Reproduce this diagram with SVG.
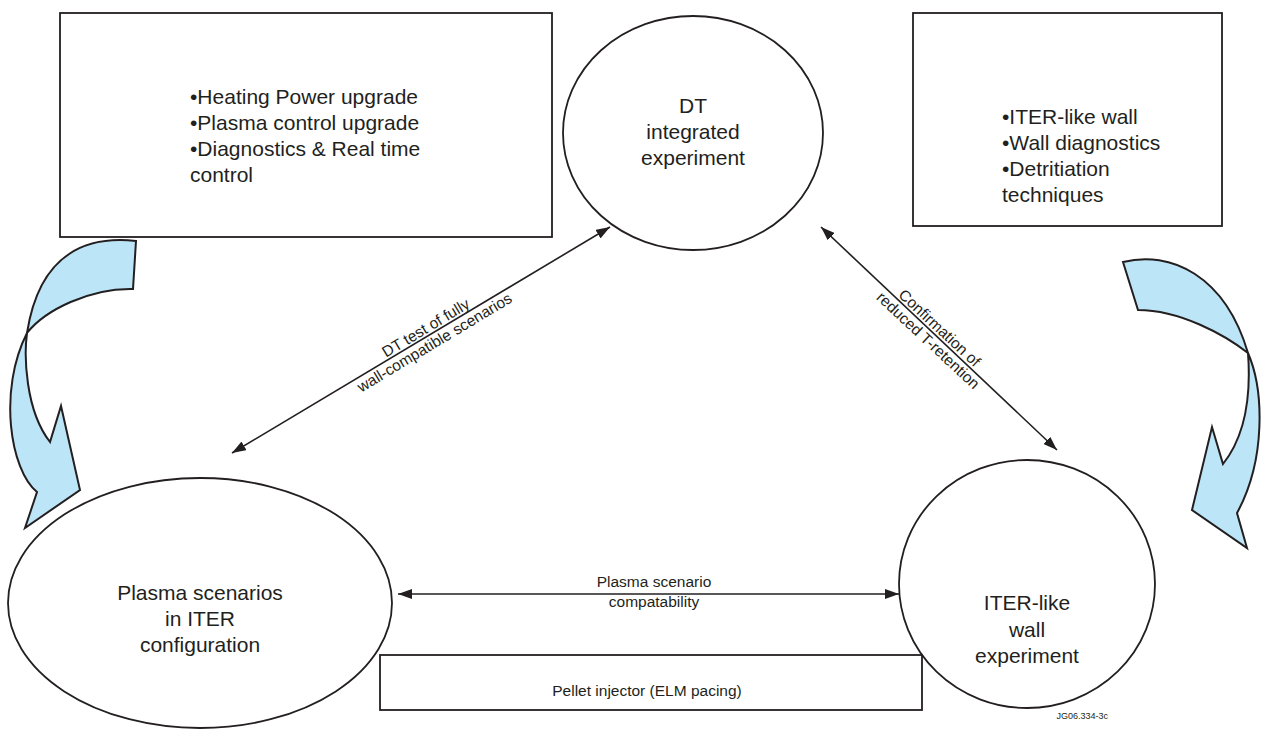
<svg xmlns="http://www.w3.org/2000/svg" width="1262" height="731" viewBox="0 0 1262 731">
<style>
.box{fill:#fff;stroke:#231f20;stroke-width:1.8}
.ell{fill:#fff;stroke:#231f20;stroke-width:1.8}
.t{font-family:"Liberation Sans",Arial,sans-serif;font-size:21px;fill:#231f20}
.c{text-anchor:middle}
.lbl{font-family:"Liberation Sans",Arial,sans-serif;font-size:15.5px;fill:#231f20;text-anchor:middle}
.con{stroke:#231f20;stroke-width:1.6;fill:none}
.blue{fill:#bde5f8;stroke:#231f20;stroke-width:2;stroke-linejoin:miter}
</style>
<defs>
<marker id="ah" viewBox="0 0 14 10" refX="14" refY="5" markerWidth="14" markerHeight="10" markerUnits="userSpaceOnUse" orient="auto-start-reverse">
<path d="M0,0 L14,5 L0,10 Z" fill="#231f20"/>
</marker>
</defs>
<rect width="1262" height="731" fill="#fff"/>

<g id="box-upgrades">
<rect class="box" x="60" y="13" width="492" height="224"/>
<text class="t" x="190" y="104">•Heating Power upgrade</text>
<text class="t" x="190" y="130">•Plasma control upgrade</text>
<text class="t" x="190" y="156">•Diagnostics &amp; Real time</text>
<text class="t" x="190" y="182"> control</text>
</g>

<g id="box-wall">
<rect class="box" x="913" y="13" width="309" height="213"/>
<text class="t" x="1002" y="124">•ITER-like wall</text>
<text class="t" x="1002" y="150">•Wall diagnostics</text>
<text class="t" x="1002" y="176">•Detritiation</text>
<text class="t" x="1002" y="202"> techniques</text>
</g>

<g id="arrow-left-curved">
<path class="blue" d="M136,241 C90,236 40,250 27,333 C24,355 25,410 50,442 L61,406 L80,490 L25,528 L37,492 C10,470 -2,390 27,333 C45,310 90,288 133,289 Z"/>
</g>

<g id="arrow-right-curved">
<path class="blue" d="M1123,262 C1170,250 1225,275 1248,353 C1250,380 1250,430 1223,464 L1212,427 L1192,510 L1247,548 L1237,513 C1266,460 1264,390 1248,353 C1225,335 1180,310 1138,310 Z"/>
</g>

<g id="node-dt">
<ellipse class="ell" cx="693" cy="133" rx="130" ry="117"/>
<text class="t c" x="693" y="113">DT</text>
<text class="t c" x="693" y="139">integrated</text>
<text class="t c" x="693" y="165">experiment</text>
</g>

<g id="node-plasma">
<ellipse class="ell" cx="200" cy="603" rx="192" ry="125"/>
<text class="t c" x="200" y="600">Plasma scenarios</text>
<text class="t c" x="200" y="626">in ITER</text>
<text class="t c" x="200" y="652">configuration</text>
</g>

<g id="node-wall">
<ellipse class="ell" cx="1027" cy="584" rx="128" ry="124"/>
<text class="t c" x="1027" y="610">ITER-like</text>
<text class="t c" x="1027" y="637">wall</text>
<text class="t c" x="1027" y="663">experiment</text>
</g>

<g id="box-pellet">
<rect class="box" x="380" y="655" width="542" height="55"/>
<text class="lbl" x="647" y="696">Pellet injector (ELM pacing)</text>
</g>

<g id="connectors">
<line class="con" x1="232" y1="453" x2="610" y2="227" marker-start="url(#ah)" marker-end="url(#ah)"/>
<line class="con" x1="821" y1="227" x2="1057" y2="450" marker-start="url(#ah)" marker-end="url(#ah)"/>
<line class="con" x1="398" y1="594" x2="899" y2="594" marker-start="url(#ah)" marker-end="url(#ah)"/>
<g transform="translate(430,335) rotate(-31)">
<text class="lbl" x="0" y="-3">DT test of fully</text>
<text class="lbl" x="0" y="14">wall-compatible scenarios</text>
</g>
<g transform="translate(934,334) rotate(43)">
<text class="lbl" x="0" y="-3">Confirmation of</text>
<text class="lbl" x="0" y="14">reduced T-retention</text>
</g>
<text class="lbl" x="654" y="587">Plasma scenario</text>
<text class="lbl" x="654" y="607">compatability</text>
</g>

<text x="1108" y="719" font-family="Liberation Sans, Arial, sans-serif" font-size="9" fill="#231f20" text-anchor="end">JG06.334-3c</text>
</svg>
